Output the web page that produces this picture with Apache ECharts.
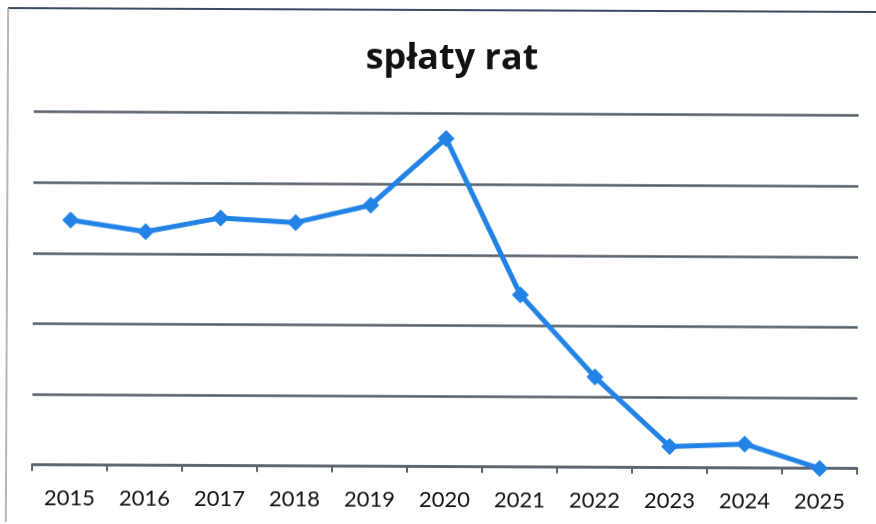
<!DOCTYPE html>
<html>
<head>
<meta charset="utf-8">
<style>
  html, body { margin: 0; padding: 0; background: #fff; }
  #chart { width: 876px; height: 524px; transform: rotate(0.26deg); transform-origin: 438px 262px; }
</style>
<script src="https://cdn.jsdelivr.net/npm/echarts@6/dist/echarts.min.js"></script>
</head>
<body>
<div id="chart"></div>
<script>
// Yearly loan instalment repayments
const titleText = 'spłaty rat';
const years = ['2015', '2016', '2017', '2018', '2019', '2020', '2021', '2022', '2023', '2024', '2025'];
const repayments = [3.47, 3.31, 3.51, 3.45, 3.70, 4.65, 2.44, 1.28, 0.30, 0.34, 0.0];

const chart = echarts.init(document.getElementById('chart'), null, { renderer: 'canvas' });

chart.setOption({
  backgroundColor: '#ffffff',
  animation: false,
  title: {
    text: titleText,
    left: 446,
    top: 36,
    textAlign: 'center',
    textStyle: {
      fontFamily: 'Open Sans',
      fontWeight: 'bold',
      fontSize: 36,
      color: '#111111'
    }
  },
  grid: { left: 33, right: 18, top: 113.7, bottom: 57.3, containLabel: false },
  xAxis: {
    type: 'category',
    data: years,
    boundaryGap: true,
    axisLine: { show: true, lineStyle: { color: '#5a636c', width: 2.5 } },
    axisTick: { show: true, length: 6, lineStyle: { color: '#5a636c', width: 2 } },
    axisLabel: {
      color: '#111111',
      fontFamily: 'Lato',
      fontSize: 22,
      margin: 22
    }
  },
  yAxis: {
    type: 'value',
    min: 0,
    max: 5,
    interval: 1,
    axisLine: { show: false },
    axisTick: { show: false },
    axisLabel: { show: false },
    splitLine: { show: true, lineStyle: { color: '#555e68', width: 2.5 } }
  },
  series: [{
    type: 'line',
    data: repayments,
    symbol: 'diamond',
    symbolSize: 17,
    lineStyle: { color: '#2282e6', width: 5 },
    itemStyle: { color: '#2282e6' },
    z: 5
  }],
  graphic: [
    {
      type: 'line',
      shape: { x1: 7, y1: 10, x2: 880, y2: 10 },
      style: { stroke: '#3c4a62', lineWidth: 2 }
    },
    {
      type: 'line',
      shape: { x1: 7, y1: 10, x2: 7, y2: 530 },
      style: { stroke: '#9a9ea4', lineWidth: 1.5 }
    }
  ]
});
</script>
</body>
</html>
